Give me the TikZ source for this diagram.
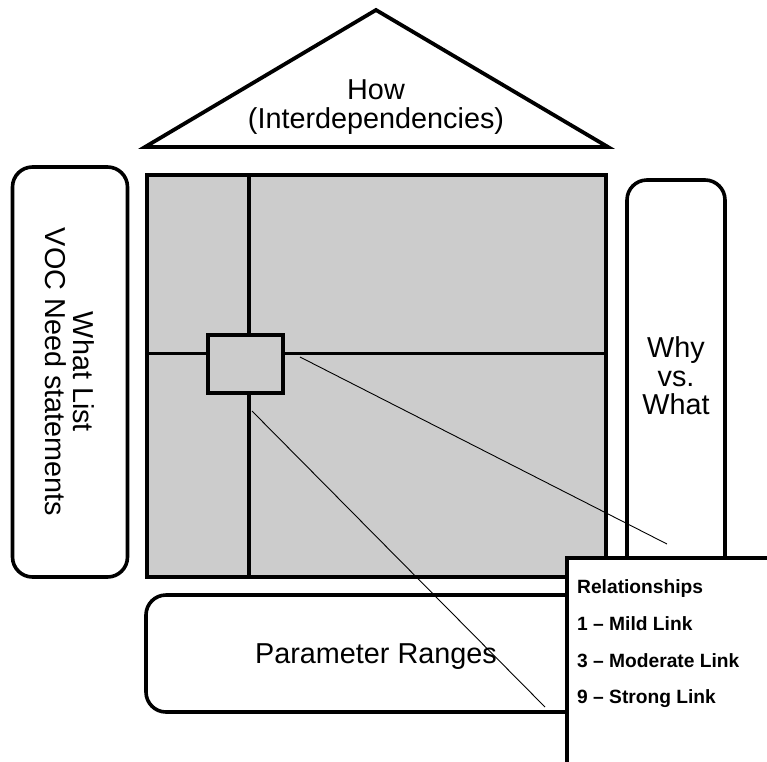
\documentclass[tikz,border=0pt]{standalone}
\usepackage{fontspec}
\setmainfont{Liberation Sans}
\definecolor{cellgray}{RGB}{204,204,204}
\begin{document}
\begin{tikzpicture}[x=1pt,y=-1pt,
  thickline/.style={line width=3.8pt},
  panel/.style={draw, line width=3.6pt, rounded corners=20pt, fill=white, inner sep=0pt},
  cellbox/.style={draw, thickline, fill=cellgray, inner sep=0pt},
  label/.style={font=\fontsize{28.8}{28.5}\selectfont, align=center, inner sep=0pt},
  keytext/.style={font=\fontsize{19.2}{19.2}\selectfont\bfseries, anchor=base west, inner sep=0pt},
  leader/.style={line width=0.9pt}]
\useasboundingbox (0,0) rectangle (767,761);
\clip (0,0) rectangle (767,761);

% roof: how
\coordinate (apex) at (376,10);
\coordinate (eaveR) at (608,147);
\coordinate (eaveL) at (145,147);
\draw[thickline, line join=miter] (apex) -- (eaveR) -- (eaveL) -- cycle;
\node[label] (howtext) at (376,107) {How\\(Interdependencies)};

% side and bottom rooms
\node[panel, minimum width=115pt, minimum height=410pt] (what) at (70,372) {};
\node[label, rotate=-90] (whattext) at (70,372) {What List\\VOC Need statements};

\node[panel, minimum width=98pt, minimum height=397pt] (why) at (676,378.5) {};
\node[label] (whytext) at (676,376) {Why\\vs.\\What};

\node[panel, minimum width=460pt, minimum height=117pt] (ranges) at (376,653.5) {};
\node[label, anchor=base] (rangestext) at (376,663) {Parameter Ranges};

% relationship matrix
\node[cellbox, minimum width=459pt, minimum height=402pt] (grid) at (376.5,376) {};
\coordinate (vx) at (249,0);
\coordinate (hy) at (0,353.5);
\node[cellbox, minimum width=75pt, minimum height=58pt] (cell) at (245.5,364) {};
\draw[thickline] (vx |- grid.north) -- (vx |- cell.north);
\draw[thickline] (vx |- cell.south) -- (vx |- grid.south);
\draw[thickline] (grid.west |- hy) -- (cell.west |- hy);
\draw[thickline] (cell.east |- hy) -- (grid.east |- hy);

% leader lines from the cell
\coordinate (l1s) at (300,357);
\coordinate (l1e) at (667,544);
\coordinate (l2s) at (252,411);
\coordinate (l2e) at (545,707);
\draw[leader] (l1s) -- (l1e);
\draw[leader] (l2s) -- (l2e);

% legend
\node[draw, thickline, fill=white, anchor=north west, minimum width=300pt, minimum height=300pt] (legend) at (565,556) {};
\node[keytext] (k0) at (577,593) {Relationships};
\node[keytext] (k1) at (577,630) {1 – Mild Link};
\node[keytext] (k3) at (577,667) {3 – Moderate Link};
\node[keytext] (k9) at (577,703) {9 – Strong Link};
\end{tikzpicture}
\end{document}
